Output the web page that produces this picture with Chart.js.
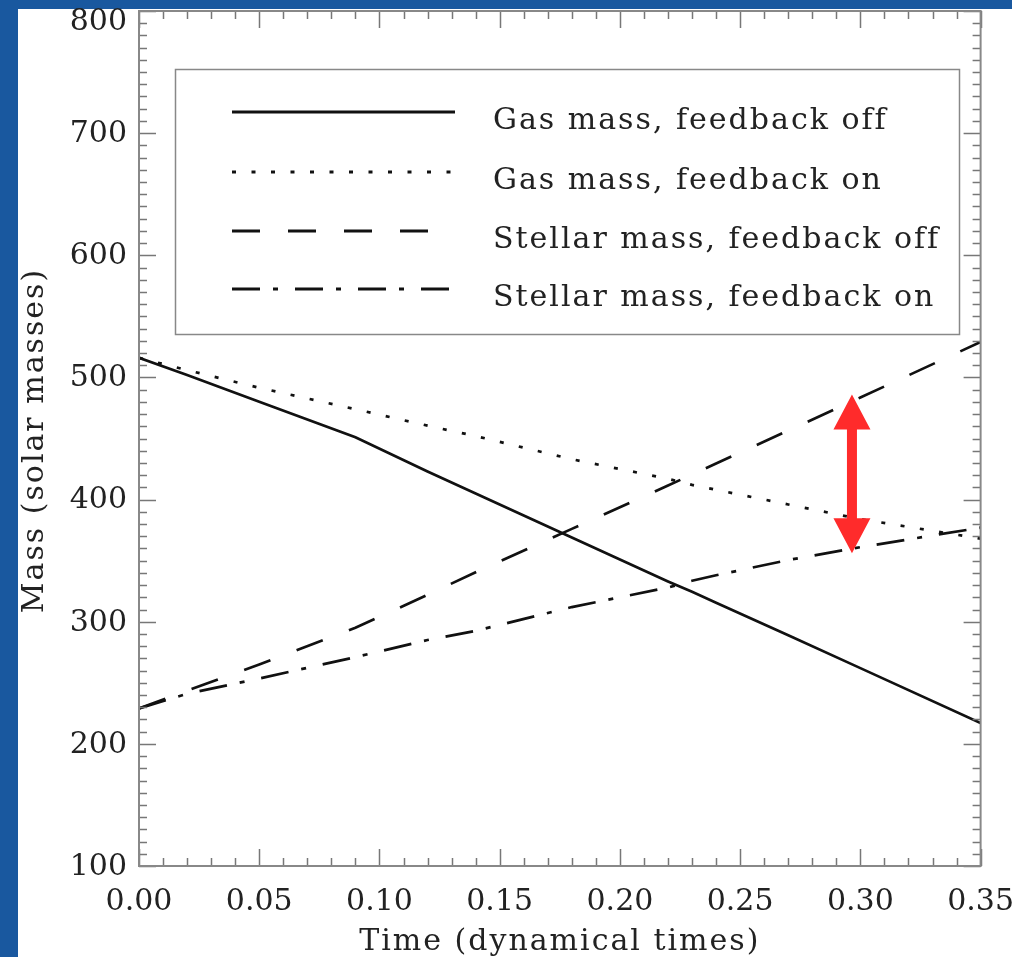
<!DOCTYPE html>
<html>
<head>
<meta charset="utf-8">
<script src="https://cdn.jsdelivr.net/npm/chart.js@4.4.1/dist/chart.umd.min.js"></script>
<style>
  html, body { margin: 0; padding: 0; background: #fff; overflow: hidden; }
  canvas { display: block; }
</style>
</head>
<body>
<canvas id="chart" width="1032" height="957" style="width:1032px;height:957px"></canvas>
<script>
// Time (dynamical times)
const times = [0, 0.02, 0.05, 0.09, 0.12, 0.14, 0.18, 0.22, 0.23, 0.24, 0.27, 0.30, 0.35];

// Mass (solar masses)
const gasOff  = [516, 502, 480, 451, 423, 405, 369, 333, 324.5, 315.5, 289, 262, 217];
const gasOn   = [516, 506, 491.5, 474, 460.5, 452, 433, 417, 412, 408, 396, 384, 368];
const starOff = [229, 243.5, 265, 295, 322, 340.5, 376, 411.5, 420.5, 429.5, 456.5, 483.5, 529];
const starOn  = [229, 241, 253.5, 271, 285, 292.5, 312, 328, 333.5, 338, 350.5, 361, 377];

const labels = [
  "Gas mass, feedback off",
  "Gas mass, feedback on",
  "Stellar mass, feedback off",
  "Stellar mass, feedback on"
];

const xTicks = [0, 0.05, 0.10, 0.15, 0.20, 0.25, 0.30, 0.35];
const yTicks = [100, 200, 300, 400, 500, 600, 700, 800];

// red double arrow (time, top mass, bottom mass)
const arrowT = 0.2965;
const arrowTop = 486;
const arrowBottom = 356;

const FONT = "'DejaVu Serif', serif";
const INK = "#222";

function toPoints(vals) {
  return times.map((t, i) => ({ x: t, y: vals[i] }));
}

const framePlugin = {
  id: "frame",
  beforeDraw(chart) {
    const ctx = chart.ctx;
    const W = ctx.canvas.width, H = ctx.canvas.height;
    ctx.save();
    ctx.fillStyle = "#fff";
    ctx.fillRect(0, 0, W, H);
    // blue slide background showing on the left and top
    ctx.fillStyle = "#19589f";
    ctx.fillRect(0, 0, 18, H);
    ctx.fillRect(0, 0, 1012, 9);
    ctx.restore();
  },
  afterDatasetsDraw(chart) {
    const ctx = chart.ctx;
    const { left, right, top, bottom } = chart.chartArea;
    const xs = chart.scales.x, ys = chart.scales.y;
    ctx.save();
    ctx.strokeStyle = "#777";
    ctx.lineWidth = 1.5;
    ctx.beginPath();
    // x ticks, every 0.01, major every 0.05
    for (let i = 0; i <= 35; i++) {
      const px = Math.round(xs.getPixelForValue(i / 100)) + 0.5;
      const len = i % 5 === 0 ? 17 : 8;
      ctx.moveTo(px, bottom); ctx.lineTo(px, bottom - len);
      ctx.moveTo(px, top); ctx.lineTo(px, top + len);
    }
    // y ticks, every 10, major every 100
    for (let v = 100; v <= 800; v += 10) {
      const py = Math.round(ys.getPixelForValue(v)) + 0.5;
      const len = v % 100 === 0 ? 17 : 8;
      ctx.moveTo(left, py); ctx.lineTo(left + len, py);
      ctx.moveTo(right, py); ctx.lineTo(right - len, py);
    }
    ctx.stroke();
    ctx.lineWidth = 2;
    ctx.strokeStyle = "#888";
    ctx.strokeRect(left, top, right - left, bottom - top);
    ctx.restore();
  },
  afterDraw(chart) {
    const ctx = chart.ctx;
    const { left, right, top, bottom } = chart.chartArea;
    const xs = chart.scales.x, ys = chart.scales.y;
    ctx.save();

    // y tick labels
    ctx.font = "30px " + FONT;
    ctx.fillStyle = INK;
    ctx.textAlign = "right";
    ctx.textBaseline = "middle";
    yTicks.forEach(v => {
      const py = Math.max(ys.getPixelForValue(v), 21);
      ctx.fillText(String(v), 127, py + 1);
    });

    // axis titles
    ctx.letterSpacing = "2px";
    ctx.textAlign = "center";
    ctx.textBaseline = "alphabetic";
    ctx.fillText("Time (dynamical times)", (left + right) / 2, 950);
    ctx.save();
    ctx.translate(43, (top + bottom) / 2 + 2);
    ctx.rotate(-Math.PI / 2);
    ctx.fillText("Mass (solar masses)", 0, 0);
    ctx.restore();

    // legend
    ctx.fillStyle = "#fff";
    ctx.fillRect(175, 69, 784, 265);
    ctx.strokeStyle = "#888";
    ctx.lineWidth = 1.5;
    ctx.strokeRect(175.5, 69.5, 784, 265);
    const rows = [112, 172, 231, 289];
    chart.data.datasets.forEach((ds, i) => {
      const y = rows[i];
      ctx.strokeStyle = "#111";
      ctx.lineWidth = 3;
      ctx.setLineDash(ds.borderDash || []);
      ctx.beginPath();
      ctx.moveTo(232, y);
      ctx.lineTo(455, y);
      ctx.stroke();
      ctx.setLineDash([]);
      ctx.fillStyle = INK;
      ctx.textAlign = "left";
      ctx.fillText(ds.label, 493, y + 17);
    });

    // red double arrow
    const px = xs.getPixelForValue(arrowT);
    const pt = ys.getPixelForValue(arrowTop);
    const pb = ys.getPixelForValue(arrowBottom);
    const head = 35, half = 18.5, shaft = 5;
    ctx.fillStyle = "#ff2b2b";
    ctx.beginPath();
    ctx.moveTo(px, pt);
    ctx.lineTo(px + half, pt + head);
    ctx.lineTo(px + shaft, pt + head);
    ctx.lineTo(px + shaft, pb - head);
    ctx.lineTo(px + half, pb - head);
    ctx.lineTo(px, pb);
    ctx.lineTo(px - half, pb - head);
    ctx.lineTo(px - shaft, pb - head);
    ctx.lineTo(px - shaft, pt + head);
    ctx.lineTo(px - half, pt + head);
    ctx.closePath();
    ctx.fill();

    ctx.restore();
  }
};

new Chart(document.getElementById("chart"), {
  type: "line",
  data: {
    datasets: [
      { label: labels[0], data: toPoints(gasOff), borderDash: [] },
      { label: labels[1], data: toPoints(gasOn), borderDash: [4, 15.5] },
      { label: labels[2], data: toPoints(starOff), borderDash: [28, 28] },
      { label: labels[3], data: toPoints(starOn), borderDash: [28, 13, 5, 17] }
    ]
  },
  options: {
    responsive: false,
    animation: false,
    devicePixelRatio: 1,
    layout: { padding: { left: 139, top: 11, right: 51, bottom: 0 } },
    elements: {
      line: { borderColor: "#111", borderWidth: 2.7, tension: 0, fill: false, borderCapStyle: "butt" },
      point: { radius: 0, hoverRadius: 0 }
    },
    plugins: {
      legend: { display: false },
      tooltip: { enabled: false }
    },
    scales: {
      x: {
        type: "linear",
        min: 0,
        max: 0.35,
        grid: { display: false, drawTicks: false },
        border: { display: false },
        afterBuildTicks: s => { s.ticks = xTicks.map(v => ({ value: v })); },
        afterFit: s => { s.height = 91; },
        ticks: {
          font: { family: FONT, size: 30 },
          color: INK,
          padding: 18,
          maxRotation: 0,
          autoSkip: false,
          callback: v => v.toFixed(2)
        }
      },
      y: { type: "linear", min: 100, max: 800, display: false }
    }
  },
  plugins: [framePlugin]
});
</script>
</body>
</html>
